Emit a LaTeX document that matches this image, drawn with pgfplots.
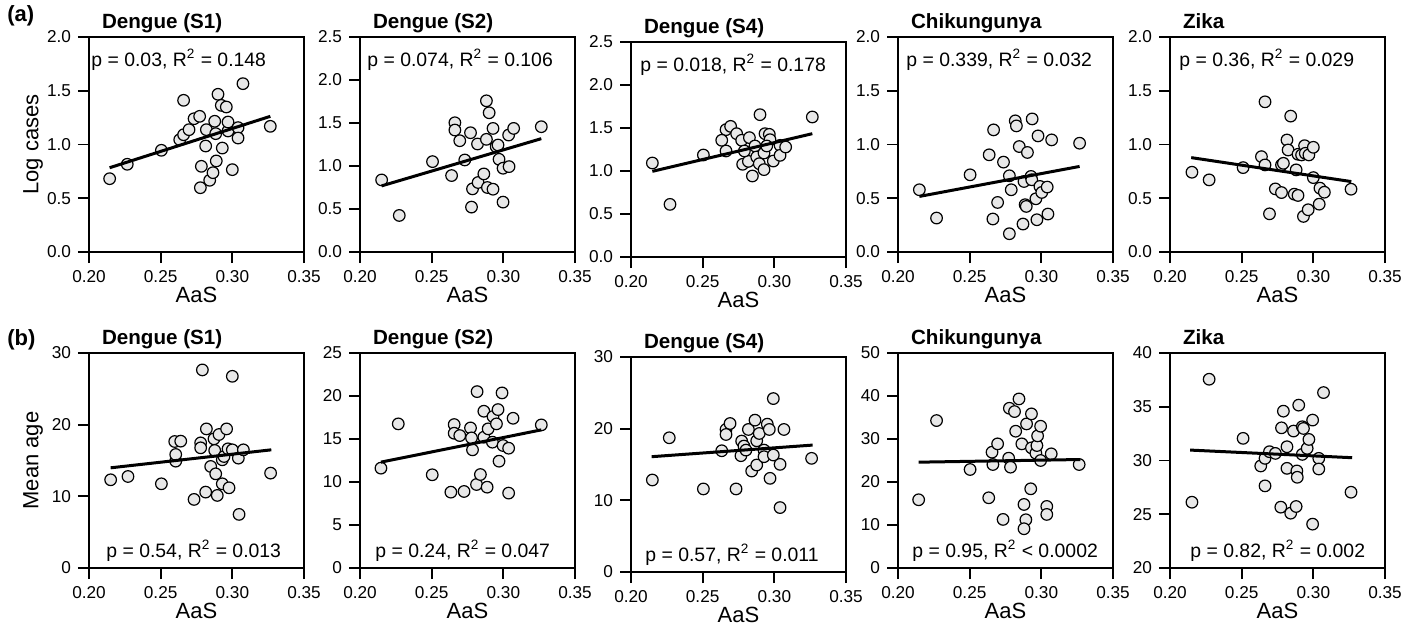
\documentclass[border=0pt]{standalone}
\usepackage{fontspec}
\setmainfont{Liberation Sans}
\usepackage{pgfplots}
\pgfplotsset{compat=1.18}
\definecolor{mk}{RGB}{232,232,232}
\tikzset{ann/.style={font=\fontsize{9.7}{12}\selectfont, inner sep=0pt}}
\pgfplotsset{
 panel/.style={
  scale only axis, width=107.5pt, height=107.5pt,
  anchor=south west,
  xmin=0.2, xmax=0.35,
  xtick={0.2,0.25,0.3,0.35},
  xticklabels={0.20,0.25,0.30,0.35},
  /pgf/number format/assume math mode=true,
  axis line style={line width=0.9pt},
  tick style={black, line width=0.9pt},
  major tick length=5.5pt,
  tick align=outside,
  xtick pos=bottom, ytick pos=left,
  tick label style={font=\fontsize{8.6}{10}\selectfont},
  xlabel={AaS},
  xlabel style={font=\fontsize{11}{13}\selectfont, at={(axis description cs:0.5,0)}, anchor=base, yshift=-25pt},
  ylabel style={font=\fontsize{11}{13}\selectfont, at={(axis description cs:0,0.5)}, anchor=center, yshift=28pt},
  title style={font=\bfseries\fontsize{10.3}{12}\selectfont, at={(axis description cs:0,1)}, anchor=base west, xshift=3pt, yshift=-1.5pt},
  clip mode=individual,
 },
 dots/.style={only marks, mark=*, mark size=2.9pt, mark options={fill=mk, draw=black, line width=0.6pt}},
 fit/.style={black, line width=1.5pt},
}
\begin{document}
\begin{tikzpicture}
\path[use as bounding box] (0,0) rectangle (707.5pt,314pt);
\node[anchor=base west, inner sep=0pt, font=\bfseries\fontsize{11}{13}\selectfont] at (3.5pt,303pt) {(a)};
\node[anchor=base west, inner sep=0pt, font=\bfseries\fontsize{11}{13}\selectfont] at (3.5pt,141.5pt) {(b)};

% ---------- Row (a) ----------
\begin{axis}[panel, at={(44.5pt,188pt)}, title={Dengue (S1)}, ylabel={Log cases},
  ymin=0, ymax=2, ytick={0,0.5,1,1.5,2}, yticklabels={0.0,0.5,1.0,1.5,2.0}]
\addplot[dots] coordinates {(0.2144,0.682) (0.2267,0.816) (0.2505,0.946) (0.266,1.411) (0.2633,1.045) (0.266,1.091) (0.2698,1.138) (0.2733,1.240) (0.2772,1.262) (0.2784,0.797) (0.2777,0.598) (0.2819,1.138) (0.2814,0.986) (0.2842,0.667) (0.2865,0.738) (0.2877,1.216) (0.2884,1.101) (0.2888,0.847) (0.29,1.467) (0.2923,1.364) (0.293,0.967) (0.2958,1.349) (0.297,1.126) (0.297,1.209) (0.30,0.766) (0.304,1.157) (0.304,1.060) (0.3074,1.566) (0.3265,1.169)};
\addplot[fit] coordinates {(0.2144,0.784) (0.3265,1.262)};
\node[ann, anchor=base west] at (rel axis cs:0,1) [xshift=1pt, yshift=-14.5pt] {p = 0.03, R\textsuperscript{2} = 0.148};
\end{axis}

\begin{axis}[panel, at={(180pt,188pt)}, title={Dengue (S2)},
  ymin=0, ymax=2.5, ytick={0,0.5,1,1.5,2,2.5}, yticklabels={0.0,0.5,1.0,1.5,2.0,2.5}]
\addplot[dots] coordinates {(0.2151,0.838) (0.2274,0.425) (0.2506,1.051) (0.2639,0.889) (0.2662,1.503) (0.2662,1.418) (0.2696,1.294) (0.2731,1.070) (0.2771,1.387) (0.2785,0.734) (0.2778,0.522) (0.2824,0.808) (0.2820,1.256) (0.2864,0.908) (0.2882,1.758) (0.2901,1.619) (0.2882,1.310) (0.2889,0.750) (0.2928,1.437) (0.2928,0.730) (0.295,1.225) (0.2963,1.244) (0.297,1.078) (0.2998,0.974) (0.2998,0.580) (0.3040,0.993) (0.3037,1.360) (0.3072,1.437) (0.3265,1.457)};
\addplot[fit] coordinates {(0.2151,0.769) (0.3265,1.318)};
\node[ann, anchor=base west] at (rel axis cs:0,1) [xshift=3.5pt, yshift=-14.5pt] {p = 0.074, R\textsuperscript{2} = 0.106};
\end{axis}

\begin{axis}[panel, at={(315.5pt,185.5pt)}, title={Dengue (S4)},
  ymin=0, ymax=2.5, ytick={0,0.5,1,1.5,2,2.5}, yticklabels={0.0,0.5,1.0,1.5,2.0,2.5}]
\addplot[dots] coordinates {(0.2149,1.093) (0.2272,0.612) (0.2505,1.186) (0.2663,1.481) (0.2695,1.519) (0.2633,1.357) (0.2663,1.233) (0.2737,1.434) (0.2772,1.357) (0.2779,1.078) (0.2819,1.112) (0.2826,1.388) (0.2847,0.942) (0.2791,1.233) (0.2865,1.291) (0.2877,1.163) (0.29,1.655) (0.2895,1.085) (0.2928,1.016) (0.2935,1.434) (0.2965,1.426) (0.297,1.364) (0.2928,1.209) (0.2947,1.291) (0.2993,1.116) (0.304,1.298) (0.304,1.182) (0.3079,1.279) (0.3265,1.628)};
\addplot[fit] coordinates {(0.2149,0.996) (0.3265,1.434)};
\node[ann, anchor=base west] at (rel axis cs:0,1) [xshift=4.5pt, yshift=-14.5pt] {p = 0.018, R\textsuperscript{2} = 0.178};
\end{axis}

\begin{axis}[panel, at={(449pt,188pt)}, title={Chikungunya},
  ymin=0, ymax=2, ytick={0,0.5,1,1.5,2}, yticklabels={0.0,0.5,1.0,1.5,2.0}]
\addplot[dots] coordinates {(0.2149,0.579) (0.2269,0.316) (0.2503,0.718) (0.2636,0.904) (0.2667,1.136) (0.2662,0.307) (0.2695,0.461) (0.2736,0.836) (0.2777,0.709) (0.279,0.579) (0.2777,0.170) (0.2818,1.220) (0.2826,1.173) (0.2846,0.981) (0.2872,0.260) (0.2879,0.656) (0.2887,0.440) (0.2895,0.424) (0.2903,0.926) (0.2928,0.703) (0.2936,1.238) (0.2933,0.672) (0.2962,0.495) (0.2969,0.300) (0.2977,1.080) (0.299,0.610) (0.3003,0.554) (0.3041,0.604) (0.3046,0.353) (0.3072,1.043) (0.3267,1.012)};
\addplot[fit] coordinates {(0.2149,0.517) (0.3267,0.796)};
\node[ann, anchor=base west] at (rel axis cs:0,1) [xshift=4pt, yshift=-14.5pt] {p = 0.339, R\textsuperscript{2} = 0.032};
\end{axis}

\begin{axis}[panel, at={(585pt,188pt)}, title={Zika},
  ymin=0, ymax=2, ytick={0,0.5,1,1.5,2}, yticklabels={0.0,0.5,1.0,1.5,2.0}]
\addplot[dots] coordinates {(0.2153,0.742) (0.2273,0.671) (0.251,0.785) (0.2638,0.887) (0.2663,1.397) (0.2663,0.810) (0.2694,0.355) (0.2735,0.587) (0.2778,0.553) (0.2778,0.810) (0.2791,0.825) (0.2816,1.042) (0.2824,0.949) (0.2842,1.264) (0.2867,0.538) (0.2893,0.526) (0.288,0.764) (0.2893,0.909) (0.2918,0.903) (0.2931,0.331) (0.2939,0.989) (0.2944,0.918) (0.2964,0.393) (0.2969,0.903) (0.30,0.974) (0.30,0.692) (0.3041,0.445) (0.3046,0.594) (0.3077,0.556) (0.3263,0.584)};
\addplot[fit] coordinates {(0.2148,0.878) (0.3265,0.655)};
\node[ann, anchor=base west] at (rel axis cs:0,1) [xshift=4.5pt, yshift=-14.5pt] {p = 0.36, R\textsuperscript{2} = 0.029};
\end{axis}

% ---------- Row (b) ----------
\begin{axis}[panel, at={(44.5pt,30pt)}, title={Dengue (S1)}, ylabel={Mean age},
  ymin=0, ymax=30, ytick={0,10,20,30}]
\addplot[dots] coordinates {(0.2151,12.31) (0.2272,12.77) (0.2505,11.75) (0.2605,14.91) (0.2605,15.84) (0.2598,17.65) (0.264,17.70) (0.2733,9.57) (0.2779,17.46) (0.2779,16.77) (0.2791,27.64) (0.2819,19.41) (0.2814,10.59) (0.2849,14.17) (0.2872,18.02) (0.2877,16.40) (0.2884,13.14) (0.2895,10.13) (0.2907,18.63) (0.293,15.10) (0.293,11.75) (0.2942,15.56) (0.296,19.41) (0.297,16.63) (0.2977,11.19) (0.30,26.75) (0.30,16.49) (0.3042,15.33) (0.3047,7.48) (0.3077,16.49) (0.3267,13.24)};
\addplot[fit] coordinates {(0.2151,13.98) (0.3272,16.49)};
\node[ann, anchor=base west] at (rel axis cs:0,0) [xshift=8.5pt, yshift=5.5pt] {p = 0.54, R\textsuperscript{2} = 0.013};
\end{axis}

\begin{axis}[panel, at={(180pt,30pt)}, title={Dengue (S2)},
  ymin=0, ymax=25, ytick={0,5,10,15,20,25}]
\addplot[dots] coordinates {(0.2146,11.61) (0.2267,16.76) (0.2504,10.84) (0.2634,8.82) (0.2657,16.68) (0.2657,15.67) (0.2696,15.40) (0.2726,8.90) (0.2771,16.29) (0.2778,15.13) (0.2785,13.74) (0.2813,9.71) (0.2817,20.51) (0.2840,10.87) (0.2864,18.23) (0.2864,15.21) (0.2887,9.40) (0.2894,16.18) (0.2928,17.61) (0.2924,14.63) (0.2952,16.76) (0.2963,18.42) (0.297,12.42) (0.2991,20.36) (0.2998,14.24) (0.3037,13.93) (0.3037,8.71) (0.3068,17.41) (0.3265,16.64)};
\addplot[fit] coordinates {(0.2146,12.31) (0.3265,16.06)};
\node[ann, anchor=base west] at (rel axis cs:0,0) [xshift=7.5pt, yshift=5.5pt] {p = 0.24, R\textsuperscript{2} = 0.047};
\end{axis}

\begin{axis}[panel, at={(315.5pt,28pt)}, title={Dengue (S4)},
  ymin=0, ymax=30, ytick={0,10,20,30}]
\addplot[dots] coordinates {(0.2149,12.84) (0.2267,18.73) (0.2505,11.59) (0.2633,16.92) (0.2663,19.89) (0.2691,20.72) (0.2663,19.19) (0.2733,11.59) (0.2772,18.27) (0.2767,16.23) (0.2788,17.57) (0.2802,17.01) (0.2819,19.89) (0.2842,14.09) (0.2865,21.19) (0.2877,18.31) (0.2877,14.93) (0.2895,19.33) (0.2928,17.01) (0.2928,16.09) (0.2951,20.63) (0.2965,19.89) (0.297,13.07) (0.2993,24.20) (0.2993,16.32) (0.304,15.02) (0.304,8.99) (0.3067,19.89) (0.3260,15.86)};
\addplot[fit] coordinates {(0.2144,16.09) (0.3267,17.71)};
\node[ann, anchor=base west] at (rel axis cs:0,0) [xshift=7pt, yshift=5.5pt] {p = 0.57, R\textsuperscript{2} = 0.011};
\end{axis}

\begin{axis}[panel, at={(449pt,30pt)}, title={Chikungunya},
  ymin=0, ymax=50, ytick={0,10,20,30,40,50}]
\addplot[dots] coordinates {(0.2144,15.87) (0.2269,34.29) (0.2503,22.91) (0.2633,16.33) (0.2656,26.93) (0.2662,24.07) (0.2695,28.87) (0.2733,11.30) (0.2772,25.54) (0.2785,23.45) (0.2777,37.15) (0.2813,36.38) (0.2821,31.81) (0.2844,39.32) (0.2864,28.87) (0.2879,14.78) (0.2892,11.22) (0.2879,9.13) (0.2897,33.51) (0.2931,35.84) (0.2926,18.42) (0.2931,27.94) (0.2962,26.70) (0.2969,28.48) (0.2974,30.73) (0.2995,32.97) (0.2995,25.00) (0.3038,14.32) (0.3038,12.46) (0.3069,26.55) (0.3264,24.07)};
\addplot[fit] coordinates {(0.2144,24.61) (0.3272,25.23)};
\node[ann, anchor=base west] at (rel axis cs:0,0) [xshift=7pt, yshift=5.5pt] {p = 0.95, R\textsuperscript{2} < 0.0002};
\end{axis}

\begin{axis}[panel, at={(585pt,30pt)}, title={Zika},
  ymin=20, ymax=40, ytick={20,25,30,35,40}]
\addplot[dots] coordinates {(0.2153,26.12) (0.2273,37.56) (0.251,32.06) (0.2633,29.49) (0.2663,30.20) (0.2663,27.64) (0.2694,30.82) (0.2735,30.66) (0.2773,25.66) (0.2778,33.04) (0.2791,34.59) (0.2816,31.28) (0.2816,29.27) (0.2842,25.10) (0.2862,32.74) (0.288,25.72) (0.2885,29.03) (0.2888,28.44) (0.2898,35.15) (0.2923,33.14) (0.2931,32.98) (0.2923,30.57) (0.2957,31.13) (0.2969,31.96) (0.2995,33.76) (0.2995,24.08) (0.3038,30.20) (0.3038,29.21) (0.3071,36.32) (0.3263,27.05)};
\addplot[fit] coordinates {(0.2140,30.97) (0.3271,30.26)};
\node[ann, anchor=base west] at (rel axis cs:0,0) [xshift=10pt, yshift=5.5pt] {p = 0.82, R\textsuperscript{2} = 0.002};
\end{axis}
\end{tikzpicture}
\end{document}
